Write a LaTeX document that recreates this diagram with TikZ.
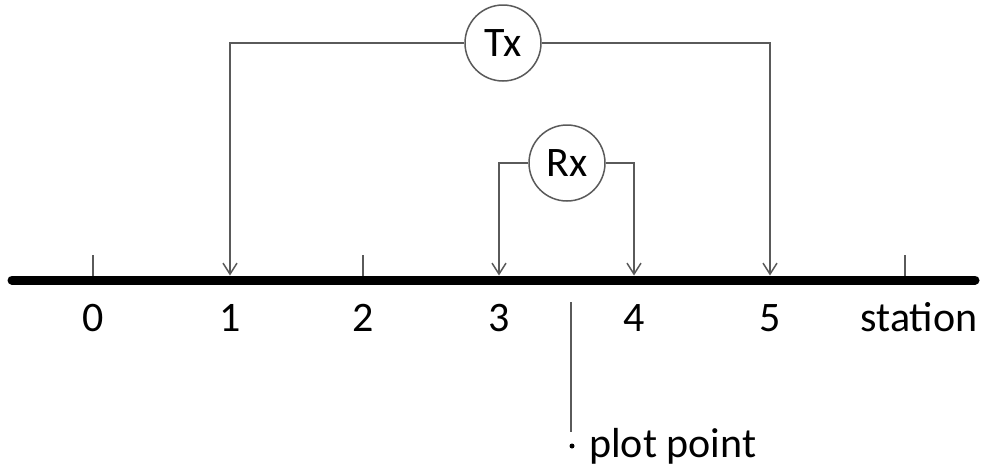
\documentclass[tikz,border=0pt]{standalone}
\usepackage{fontspec}
\setmainfont{Carlito}
\usetikzlibrary{arrows.meta,positioning}
\definecolor{wire}{HTML}{5A5A5A}

\begin{document}
\begin{tikzpicture}[
    x=1pt, y=-1pt,
    font=\fontsize{42}{48}\selectfont,
    ring/.style={draw=wire, line width=1.5pt, circle, minimum size=76pt, inner sep=0pt},
    wire/.style={draw=wire, line width=1.5pt},
    arrow/.style={wire, -{Straight Barb[length=11pt, width=14pt]}},
    tickmark/.style={draw=wire, line width=2pt},
    stat/.style={anchor=base, inner sep=0pt},
    dot/.style={circle, fill=black, inner sep=0pt, minimum size=5pt}
]
\useasboundingbox (0,0) rectangle (987,467);

% station axis
\draw[line width=9pt, line cap=round] (12,280) -- (975,280);
\foreach \n/\x in {0/93,1/230,2/363,3/499,4/634,5/770} {
    \coordinate (s\n) at (\x,275.5);
    \node[stat] (n\n) at (\x,331) {\n};
}
\coordinate (s6) at (905,275.5);
\node[stat] (n6) at (919,331) {station};
\draw[tickmark] (93,255) -- (s0);
\draw[tickmark] (363,255) -- (s2);
\draw[tickmark] (905,255) -- (s6);

% transmitter and receiver
\node[ring] (tx) at (503,43) {Tx};
\node[ring] (rx) at (567,163) {Rx};
\draw[arrow] (tx.west) -| (s1);
\draw[arrow] (tx.east) -| (s5);
\draw[arrow] (rx.west) -| (s3);
\draw[arrow] (rx.east) -| (s4);

% plot point below the midpoint
\coordinate (pp) at (571,302);
\coordinate (ppend) at (571,432);
\draw[wire] (pp) -- (ppend);
\node[dot] (ppdot) at (572,446) {};
\node[stat, anchor=base west] (pptext) at (589,457) {plot point};
\end{tikzpicture}
\end{document}
